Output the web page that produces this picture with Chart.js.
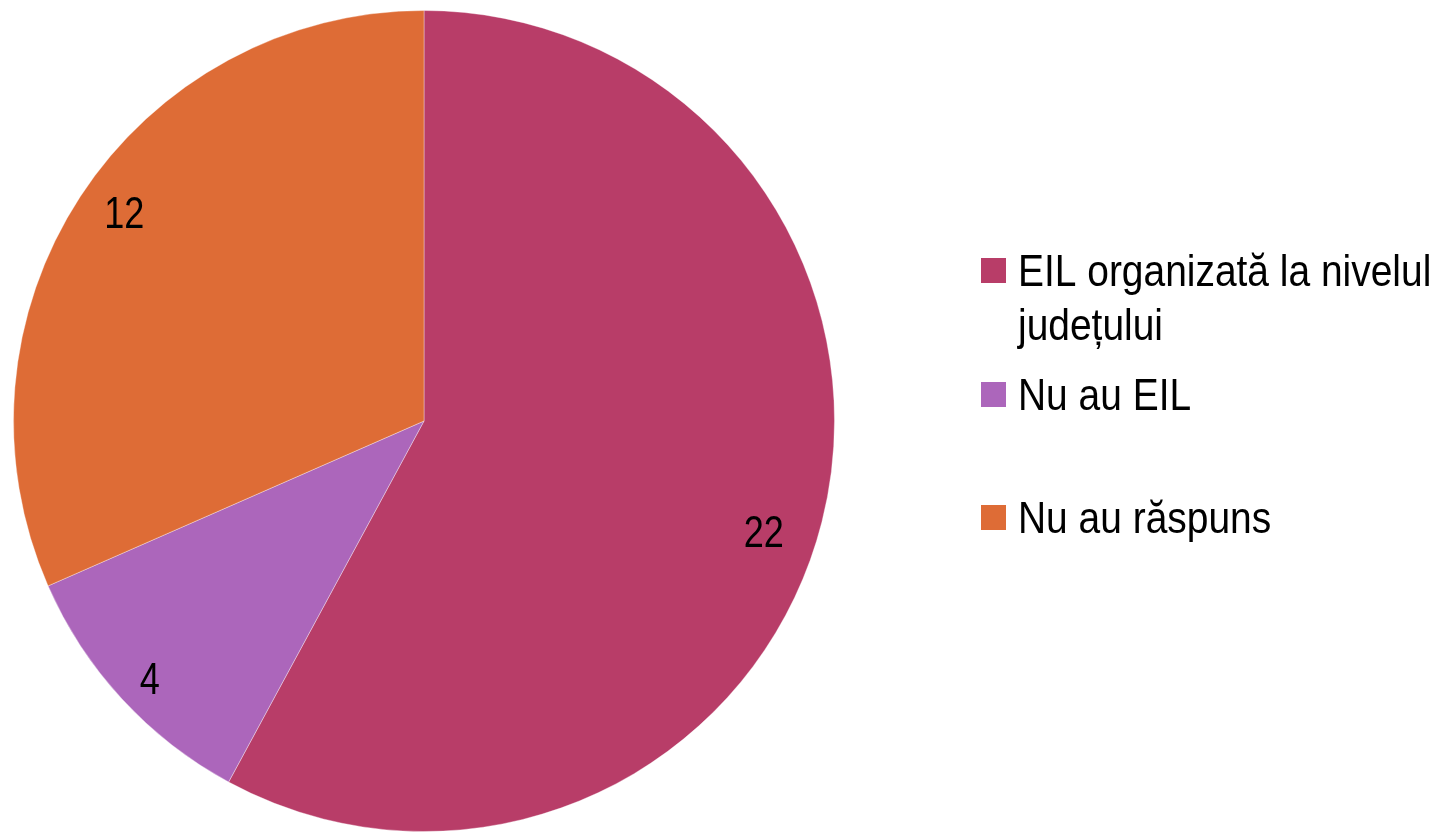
<!DOCTYPE html>
<html>
<head>
<meta charset="utf-8">
<script src="https://cdn.jsdelivr.net/npm/chart.js@4.4.1/dist/chart.umd.min.js"></script>
<style>
    html, body { margin: 0; padding: 0; background: #ffffff; }
    #wrap { position: relative; width: 1439px; height: 832px; }
</style>
</head>
<body>
<div id="wrap"><canvas id="pieChart"></canvas></div>
<script>
// chart data
const categories = ["EIL organizată la nivelul județului", "Nu au EIL", "Nu au răspuns"];
const legendLines = [["EIL organizată la nivelul", "județului"], ["Nu au EIL"], ["Nu au răspuns"]];
const counts = [22, 4, 12];
const sliceColors = ["#B83D68", "#AC66BB", "#DE6C36"];

// no narrow font installed, so the regular one is squeezed horizontally
const FONT = "'Liberation Sans', Arial, sans-serif";

function narrowText(ctx, text, x, y, align, sx) {
    ctx.save();
    ctx.translate(x, y);
    ctx.scale(sx, 1);
    ctx.textAlign = align;
    ctx.fillText(text, 0, 0);
    ctx.restore();
}

document.addEventListener("DOMContentLoaded", function () {
    // numbers inside the slices
    const sliceLabels = {
        id: "sliceLabels",
        afterDatasetsDraw(chart, args, opts) {
            const ctx = chart.ctx;
            const meta = chart.getDatasetMeta(0);
            ctx.save();
            ctx.font = "44px " + FONT;
            ctx.fillStyle = "#000000";
            ctx.textBaseline = "alphabetic";
            meta.data.forEach(function (arc, i) {
                const p = arc.getProps(["x", "y", "startAngle", "endAngle", "outerRadius"], true);
                const place = opts.place[i];
                const mid = (p.startAngle + p.endAngle) / 2 + place.da * Math.PI / 180;
                const r = p.outerRadius * place.r;
                const cx = p.x + Math.cos(mid) * r;
                const cy = p.y + Math.sin(mid) * r;
                narrowText(ctx, String(counts[i]), cx, cy + 16, "center", 0.82);
            });
            ctx.restore();
        }
    };

    // legend on the right, square markers
    const sideLegend = {
        id: "sideLegend",
        afterDraw(chart) {
            const ctx = chart.ctx;
            const left = 981, box = 25, textX = 1018, lineH = 54;
            const baselines = [286, 410, 533]; // first baseline of each entry
            ctx.save();
            ctx.font = "45px " + FONT;
            ctx.textBaseline = "alphabetic";
            legendLines.forEach(function (lines, i) {
                ctx.fillStyle = sliceColors[i];
                ctx.fillRect(left, baselines[i] - 28, box, box);
                ctx.fillStyle = "#000000";
                lines.forEach(function (t, j) {
                    narrowText(ctx, t, textX, baselines[i] + j * lineH, "left", 0.865);
                });
            });
            ctx.restore();
        }
    };

    const canvas = document.getElementById("pieChart");
    canvas.chart = new Chart(canvas.getContext("2d"), {
        type: "pie",
        data: {
            labels: categories,
            datasets: [{
                data: counts,
                backgroundColor: sliceColors,
                borderColor: "rgba(255,255,255,0.35)",
                borderWidth: 1
            }]
        },
        options: {
            responsive: false,
            animation: false,
            layout: {
                padding: { top: 10, left: 13, right: 604, bottom: 0 }
            },
            plugins: {
                legend: { display: false },
                tooltip: { enabled: false },
                title: { display: false },
                sliceLabels: {
                    // radius fraction and angle shift (deg) of each value label
                    place: [{ r: 0.87, da: 3.7 }, { r: 0.915, da: -0.5 }, { r: 0.89, da: 1.7 }]
                }
            }
        },
        plugins: [sliceLabels, sideLegend]
    });
});
</script>
<script>
    // fixed canvas size before the chart is built
    const c = document.getElementById("pieChart");
    c.width = 1439; c.height = 832;
    c.style.width = "1439px"; c.style.height = "832px";
</script>
</body>
</html>
